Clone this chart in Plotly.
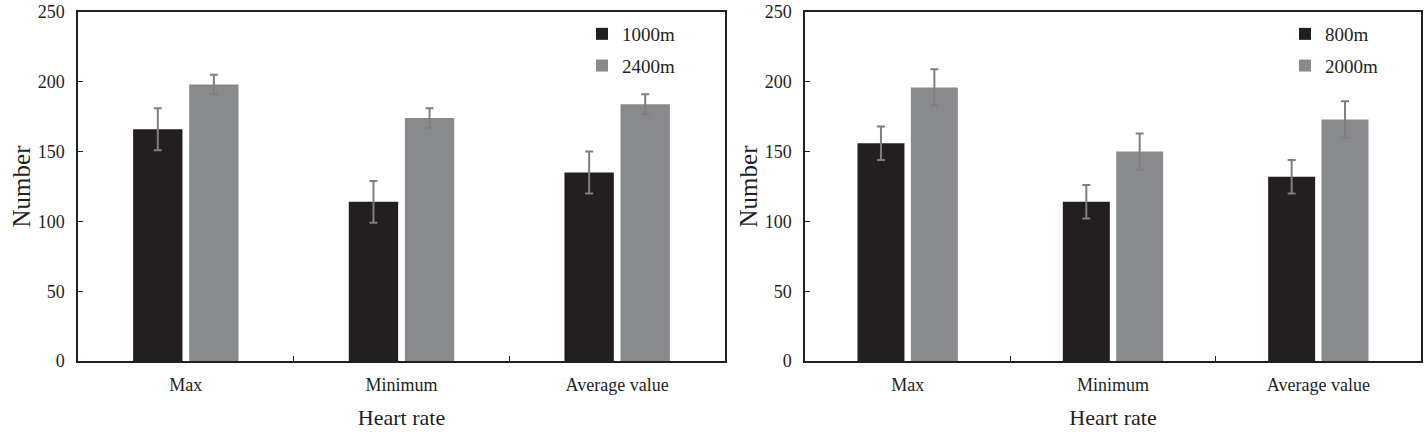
import plotly.graph_objects as go

categories = ["Max", "Minimum", "Average value"]

left_names = ["1000m", "2400m"]
left_values = [[166, 114, 135], [198, 174, 184]]
left_errors = [[15, 15, 15], [7, 7, 7]]

right_names = ["800m", "2000m"]
right_values = [[156, 114, 132], [196, 150, 173]]
right_errors = [[12, 12, 12], [13, 13, 13]]

y_ticks = [0, 50, 100, 150, 200, 250]

colors = ["#231f20", "#898a8e"]
FONT = "Liberation Serif, Times New Roman, serif"
TXT = "#231f20"

fig = go.Figure()

for i in range(2):
    fig.add_trace(go.Bar(
        x=categories, y=left_values[i], name=left_names[i],
        marker=dict(color=colors[i], line=dict(width=0)),
        error_y=dict(type="data", array=left_errors[i], color="#7f7f7f",
                     thickness=2, width=4),
        xaxis="x", yaxis="y", legend="legend", legendgroup="L%d" % i,
    ))
for i in range(2):
    fig.add_trace(go.Bar(
        x=categories, y=right_values[i], name=right_names[i],
        marker=dict(color=colors[i], line=dict(width=0)),
        error_y=dict(type="data", array=right_errors[i], color="#7f7f7f",
                     thickness=2, width=4),
        xaxis="x2", yaxis="y2", legend="legend2", legendgroup="R%d" % i,
    ))

W, H = 1424, 432


def px_x(v):
    return v / W


def px_y(v):
    return 1 - v / H


xax = dict(
    type="category", showline=True, linecolor="#231f20", linewidth=1.5, mirror=True,
    ticks="inside", tickson="boundaries", ticklen=5, tickcolor="#231f20", tickwidth=1.2,
    tickfont=dict(family=FONT, size=18, color=TXT), ticklabelstandoff=7,
    ticklabeloverflow="allow",
    showgrid=False, zeroline=False, automargin=False,
    title=dict(text="Heart rate", font=dict(family=FONT, size=22, color=TXT), standoff=15),
)
yax = dict(
    range=[0, 250], tickvals=y_ticks, showline=True, linecolor="#231f20", linewidth=1.5,
    mirror=True, ticks="inside", ticklen=5, tickcolor="#231f20", tickwidth=1.2,
    tickfont=dict(family=FONT, size=18, color=TXT), ticklabelstandoff=8,
    ticklabeloverflow="allow",
    showgrid=False, zeroline=False, automargin=False,
    title=dict(text="Number", font=dict(family=FONT, size=25, color=TXT), standoff=0),
)

legend_common = dict(
    bgcolor="rgba(0,0,0,0)", font=dict(family=FONT, size=19, color=TXT),
    yanchor="top", xanchor="left", traceorder="grouped", tracegroupgap=4, itemwidth=30,
)

fig.update_layout(
    width=W, height=H,
    margin=dict(l=0, r=0, t=0, b=0, autoexpand=False),
    paper_bgcolor="white", plot_bgcolor="white",
    barmode="group", bargap=0.48, bargroupgap=0.12,
    xaxis=dict(xax, domain=[px_x(78), px_x(725)], anchor="y"),
    yaxis=dict(yax, domain=[px_y(361), px_y(12)], anchor="x"),
    xaxis2=dict(xax, domain=[px_x(805), px_x(1421)], anchor="y2"),
    yaxis2=dict(yax, domain=[px_y(361), px_y(12)], anchor="x2"),
    legend=dict(legend_common, x=px_x(582), y=px_y(15)),
    legend2=dict(legend_common, x=px_x(1285), y=px_y(15)),
)

fig.write_html(
    "out.html",
    config={"displayModeBar": False},
    post_script="document.body.style.margin='0';document.body.style.overflow='hidden';",
)
